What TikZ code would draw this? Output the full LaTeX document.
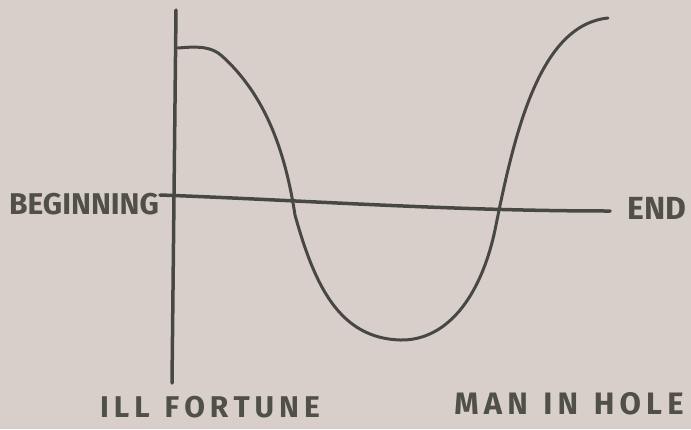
\documentclass[tikz,border=0pt]{standalone}
\usepackage{fontspec}
\setmainfont{Fira Sans}
\definecolor{paper}{RGB}{216,207,203}
\definecolor{pencil}{RGB}{72,72,66}
\definecolor{lettering}{RGB}{80,80,70}

\begin{document}
\begin{tikzpicture}[x=1pt, y=-1pt, line width=3.5pt, pencil, line cap=round,
  hand/.style={text=lettering, font=\bfseries\fontsize{#1}{#1}\selectfont}]
  % 纸张背景
  \fill[paper] (0,0) rectangle (691,429);

  % 纵轴
  \draw (176,10) -- (172,383);

  % 横轴：开头 — 结尾
  \draw (160,195) .. controls (300,200) and (450,211) .. (610,211);
  \node[hand=30] (beg) at (84,204) {BEGINNING};
  \node[hand=32] (end) at (657,208) {END};

  % 曲线：坑中人
  \draw[line width=3pt] (178,48) .. controls (200,46) and (212,47) .. (222,56)
    .. controls (265,95) and (285,150) .. (295,215)
    .. controls (315,287) and (340,338) .. (400,340)
    .. controls (445,341) and (480,300) .. (495,230)
    .. controls (515,130) and (540,25) .. (608,18);

  % 标题
  \node[hand=30] (ill) at (210,407) {I\,L\,L\,\,\,F\,O\,R\,T\,U\,N\,E};
  \node[hand=31] (man) at (569,404) {M\,A\,N\,\,\,I\,N\,\,\,H\,O\,L\,E};
\end{tikzpicture}
\end{document}
